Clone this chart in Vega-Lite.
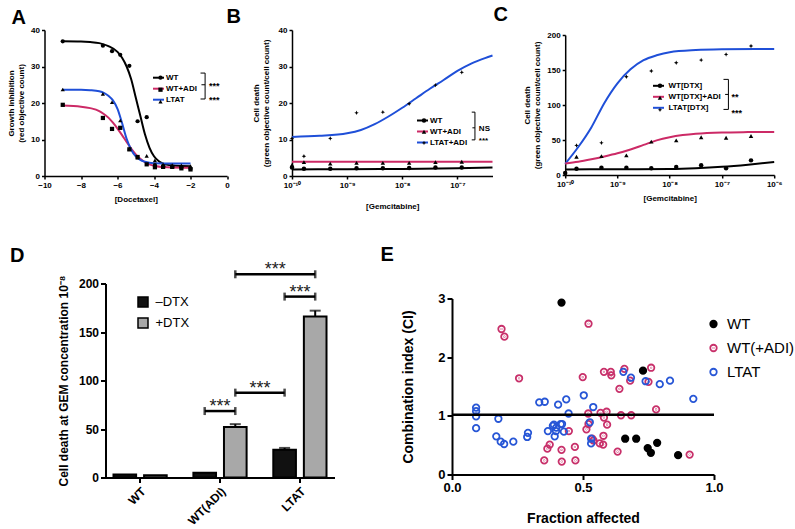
{
  "$schema": "https://vega.github.io/schema/vega-lite/v6.json",
  "padding": {"left": 7.5, "top": 5, "right": 0, "bottom": 0},
  "config": {
    "font": "Liberation Sans",
    "view": {"stroke": null},
    "axis": {"grid": false, "domainColor": "#000", "tickColor": "#000", "labelColor": "#000", "titleColor": "#000", "labelFontWeight": "bold", "titleFontWeight": "bold", "labelFlush": false, "labelOverlap": false},
    "legend": {"padding": 0, "labelColor": "#000", "title": null},
    "title": {"fontSize": 20, "fontWeight": "bold", "anchor": "start", "frame": "group", "color": "#000", "baseline": "alphabetic"}
  },
  "datasets": {
    "aCurve": [
      {"s":"WT","x":-9,"y":36.9},{"s":"WT","x":-8,"y":36.85},{"s":"WT","x":-7.5,"y":36.7},{"s":"WT","x":-7,"y":36.4},{"s":"WT","x":-6.5,"y":35.6},{"s":"WT","x":-6,"y":34},{"s":"WT","x":-5.75,"y":32.4},{"s":"WT","x":-5.5,"y":30},{"s":"WT","x":-5.25,"y":26.5},{"s":"WT","x":-5,"y":21.5},{"s":"WT","x":-4.75,"y":16.5},{"s":"WT","x":-4.5,"y":11.5},{"s":"WT","x":-4.25,"y":7.8},{"s":"WT","x":-4,"y":5.4},{"s":"WT","x":-3.75,"y":4.1},{"s":"WT","x":-3.5,"y":3.4},{"s":"WT","x":-3.25,"y":3.05},{"s":"WT","x":-3,"y":2.9},{"s":"WT","x":-2.5,"y":2.75},{"s":"WT","x":-2,"y":2.7},
      {"s":"WT+ADI","x":-9,"y":19.3},{"s":"WT+ADI","x":-8,"y":19.0},{"s":"WT+ADI","x":-7.5,"y":18.6},{"s":"WT+ADI","x":-7,"y":17.8},{"s":"WT+ADI","x":-6.75,"y":17.0},{"s":"WT+ADI","x":-6.5,"y":16.0},{"s":"WT+ADI","x":-6.25,"y":14.6},{"s":"WT+ADI","x":-6,"y":13.0},{"s":"WT+ADI","x":-5.75,"y":11.2},{"s":"WT+ADI","x":-5.5,"y":9.3},{"s":"WT+ADI","x":-5.25,"y":7.5},{"s":"WT+ADI","x":-5,"y":5.9},{"s":"WT+ADI","x":-4.75,"y":4.7},{"s":"WT+ADI","x":-4.5,"y":3.8},{"s":"WT+ADI","x":-4.25,"y":3.2},{"s":"WT+ADI","x":-4,"y":2.8},{"s":"WT+ADI","x":-3.5,"y":2.45},{"s":"WT+ADI","x":-3,"y":2.3},{"s":"WT+ADI","x":-2,"y":2.25},
      {"s":"LTAT","x":-9,"y":23.6},{"s":"LTAT","x":-8,"y":23.6},{"s":"LTAT","x":-7.5,"y":23.5},{"s":"LTAT","x":-7,"y":23.2},{"s":"LTAT","x":-6.75,"y":22.8},{"s":"LTAT","x":-6.5,"y":22.0},{"s":"LTAT","x":-6.25,"y":20.7},{"s":"LTAT","x":-6,"y":18.4},{"s":"LTAT","x":-5.75,"y":14.5},{"s":"LTAT","x":-5.5,"y":10.2},{"s":"LTAT","x":-5.25,"y":7.2},{"s":"LTAT","x":-5,"y":5.4},{"s":"LTAT","x":-4.75,"y":4.4},{"s":"LTAT","x":-4.5,"y":3.9},{"s":"LTAT","x":-4.25,"y":3.6},{"s":"LTAT","x":-4,"y":3.5},{"s":"LTAT","x":-3,"y":3.4},{"s":"LTAT","x":-2,"y":3.4}
    ],
    "aPts": [
      {"g":"WT","x":-9,"y":36.9},{"g":"WT","x":-6.8,"y":35.7},{"g":"WT","x":-6.3,"y":34.2},{"g":"WT","x":-5.85,"y":33.2},{"g":"WT","x":-5.35,"y":30.2},{"g":"WT","x":-4.9,"y":15.0},{"g":"WT","x":-4.4,"y":16.1},{"g":"WT","x":-3.95,"y":3.0},{"g":"WT","x":-3.5,"y":2.7},{"g":"WT","x":-3.0,"y":2.5},{"g":"WT","x":-2.5,"y":2.3},{"g":"WT","x":-2.0,"y":2.0},
      {"g":"WT+ADI","x":-9,"y":19.5},{"g":"WT+ADI","x":-6.8,"y":15.9},{"g":"WT+ADI","x":-6.3,"y":12.9},{"g":"WT+ADI","x":-5.85,"y":13.2},{"g":"WT+ADI","x":-5.35,"y":7.3},{"g":"WT+ADI","x":-4.9,"y":5.2},{"g":"WT+ADI","x":-4.4,"y":3.2},{"g":"WT+ADI","x":-3.95,"y":2.4},{"g":"WT+ADI","x":-3.5,"y":2.5},{"g":"WT+ADI","x":-3.0,"y":2.5},{"g":"WT+ADI","x":-2.5,"y":2.1},{"g":"WT+ADI","x":-2.0,"y":1.8},
      {"g":"LTAT","x":-9,"y":23.7},{"g":"LTAT","x":-6.8,"y":22.5},{"g":"LTAT","x":-6.3,"y":20.2},{"g":"LTAT","x":-5.85,"y":15.2},{"g":"LTAT","x":-5.35,"y":7.5},{"g":"LTAT","x":-4.9,"y":5.0},{"g":"LTAT","x":-4.4,"y":5.5},{"g":"LTAT","x":-3.95,"y":4.3},{"g":"LTAT","x":-3.5,"y":3.2},{"g":"LTAT","x":-3.0,"y":3.0},{"g":"LTAT","x":-2.5,"y":2.9},{"g":"LTAT","x":-2.0,"y":2.7}
    ],
    "aRule": [
      {"x":-1.2,"x2":-1.2,"y":21.1,"y2":28.2},{"x":-1.45,"x2":-1.2,"y":28.2,"y2":28.2},{"x":-1.45,"x2":-1.2,"y":21.1,"y2":21.1},{"x":-1.4,"x2":-1.2,"y":25.0,"y2":25.0}
    ],
    "aTxt": [{"x":-0.99,"y":25.0,"t":"***"},{"x":-0.99,"y":21.1,"t":"***"}],
    "bCurve": [
      {"s":"LTAT+ADI","x":1e-10,"y":10.7},{"s":"LTAT+ADI","x":3.162e-10,"y":11.0},{"s":"LTAT+ADI","x":1e-9,"y":11.7},{"s":"LTAT+ADI","x":1.778e-9,"y":12.6},{"s":"LTAT+ADI","x":3.162e-9,"y":14.2},{"s":"LTAT+ADI","x":5.623e-9,"y":16.3},{"s":"LTAT+ADI","x":1e-8,"y":18.7},{"s":"LTAT+ADI","x":1.778e-8,"y":21.3},{"s":"LTAT+ADI","x":3.162e-8,"y":23.9},{"s":"LTAT+ADI","x":5.623e-8,"y":26.3},{"s":"LTAT+ADI","x":1e-7,"y":28.8},{"s":"LTAT+ADI","x":1.778e-7,"y":30.8},{"s":"LTAT+ADI","x":3.162e-7,"y":32.3},{"s":"LTAT+ADI","x":4.33e-7,"y":33.0},
      {"s":"WT","x":1e-10,"y":1.8},{"s":"WT","x":1e-9,"y":1.85},{"s":"WT","x":1e-8,"y":1.95},{"s":"WT","x":1e-7,"y":2.1},{"s":"WT","x":4.33e-7,"y":2.3},
      {"s":"WT+ADI","x":1e-10,"y":3.9},{"s":"WT+ADI","x":1e-8,"y":3.9},{"s":"WT+ADI","x":4.33e-7,"y":3.9}
    ],
    "bPts": [
      {"g":"LTAT+ADI","x":1e-10,"y":10.3},{"g":"LTAT+ADI","x":1.646e-10,"y":5.4},{"g":"LTAT+ADI","x":4.94e-10,"y":10.3},{"g":"LTAT+ADI","x":1.481e-9,"y":17.3},{"g":"LTAT+ADI","x":4.444e-9,"y":17.5},{"g":"LTAT+ADI","x":1.333e-8,"y":19.8},{"g":"LTAT+ADI","x":4e-8,"y":24.9},{"g":"LTAT+ADI","x":1.2e-7,"y":28.4},
      {"g":"WT+ADI","x":1e-10,"y":3.0},{"g":"WT+ADI","x":1.646e-10,"y":3.8},{"g":"WT+ADI","x":4.94e-10,"y":3.4},{"g":"WT+ADI","x":1.481e-9,"y":3.6},{"g":"WT+ADI","x":4.444e-9,"y":3.6},{"g":"WT+ADI","x":1.333e-8,"y":3.6},{"g":"WT+ADI","x":4e-8,"y":3.8},{"g":"WT+ADI","x":1.2e-7,"y":3.9},
      {"g":"WT","x":1e-10,"y":2.3},{"g":"WT","x":1.646e-10,"y":2.0},{"g":"WT","x":4.94e-10,"y":2.0},{"g":"WT","x":1.481e-9,"y":2.1},{"g":"WT","x":4.444e-9,"y":2.1},{"g":"WT","x":1.333e-8,"y":2.2},{"g":"WT","x":4e-8,"y":2.3},{"g":"WT","x":1.2e-7,"y":2.3}
    ],
    "bRule": [
      {"x":2.08e-7,"x2":2.08e-7,"y":9.9,"y2":17.5},{"x":1.82e-7,"x2":2.08e-7,"y":17.5,"y2":17.5},{"x":1.82e-7,"x2":2.08e-7,"y":9.9,"y2":9.9},{"x":1.87e-7,"x2":2.08e-7,"y":13.2,"y2":13.2}
    ],
    "bTxt": [{"x":2.45e-7,"y":13.2,"t":"NS"},{"x":2.45e-7,"y":9.9,"t":"***"}],
    "cCurve": [
      {"s":"LTAT[DTX]","x":1e-10,"y":16},{"s":"LTAT[DTX]","x":1.778e-10,"y":40},{"s":"LTAT[DTX]","x":3.162e-10,"y":68},{"s":"LTAT[DTX]","x":5.623e-10,"y":103},{"s":"LTAT[DTX]","x":1e-9,"y":131},{"s":"LTAT[DTX]","x":1.778e-9,"y":151},{"s":"LTAT[DTX]","x":3.162e-9,"y":164},{"s":"LTAT[DTX]","x":5.623e-9,"y":171},{"s":"LTAT[DTX]","x":1e-8,"y":175.5},{"s":"LTAT[DTX]","x":3.162e-8,"y":178.5},{"s":"LTAT[DTX]","x":1e-7,"y":179.5},{"s":"LTAT[DTX]","x":1e-6,"y":180},
      {"s":"WT[DTX]+ADI","x":1e-10,"y":16.5},{"s":"WT[DTX]+ADI","x":1.778e-10,"y":19},{"s":"WT[DTX]+ADI","x":3.162e-10,"y":22.5},{"s":"WT[DTX]+ADI","x":5.623e-10,"y":26.5},{"s":"WT[DTX]+ADI","x":1e-9,"y":31},{"s":"WT[DTX]+ADI","x":1.778e-9,"y":36.5},{"s":"WT[DTX]+ADI","x":3.162e-9,"y":43},{"s":"WT[DTX]+ADI","x":5.623e-9,"y":49.5},{"s":"WT[DTX]+ADI","x":1e-8,"y":54},{"s":"WT[DTX]+ADI","x":1.778e-8,"y":57},{"s":"WT[DTX]+ADI","x":3.162e-8,"y":59},{"s":"WT[DTX]+ADI","x":1e-7,"y":60.8},{"s":"WT[DTX]+ADI","x":3.162e-7,"y":61.3},{"s":"WT[DTX]+ADI","x":1e-6,"y":61.5},
      {"s":"WT[DTX]","x":1e-10,"y":8},{"s":"WT[DTX]","x":1e-9,"y":8.2},{"s":"WT[DTX]","x":1e-8,"y":8.7},{"s":"WT[DTX]","x":3.162e-8,"y":9.8},{"s":"WT[DTX]","x":1e-7,"y":11.8},{"s":"WT[DTX]","x":3.162e-7,"y":14.8},{"s":"WT[DTX]","x":1e-6,"y":18.5}
    ],
    "cPts": [
      {"g":"LTAT[DTX]","x":1.646e-10,"y":42.3},{"g":"LTAT[DTX]","x":4.94e-10,"y":46},{"g":"LTAT[DTX]","x":1.481e-9,"y":140.4},{"g":"LTAT[DTX]","x":4.444e-9,"y":148.6},{"g":"LTAT[DTX]","x":1.333e-8,"y":160.4},{"g":"LTAT[DTX]","x":4e-8,"y":164.2},{"g":"LTAT[DTX]","x":1.2e-7,"y":172.3},{"g":"LTAT[DTX]","x":3.6e-7,"y":184.3},
      {"g":"WT[DTX]+ADI","x":1.646e-10,"y":26},{"g":"WT[DTX]+ADI","x":4.94e-10,"y":27},{"g":"WT[DTX]+ADI","x":1.481e-9,"y":28},{"g":"WT[DTX]+ADI","x":4.444e-9,"y":47.6},{"g":"WT[DTX]+ADI","x":1.333e-8,"y":49.5},{"g":"WT[DTX]+ADI","x":4e-8,"y":54},{"g":"WT[DTX]+ADI","x":1.2e-7,"y":53.3},{"g":"WT[DTX]+ADI","x":3.6e-7,"y":55.7},
      {"g":"WT[DTX]","x":1e-10,"y":3},{"g":"WT[DTX]","x":1.646e-10,"y":8.9},{"g":"WT[DTX]","x":4.94e-10,"y":10.4},{"g":"WT[DTX]","x":1.481e-9,"y":10.4},{"g":"WT[DTX]","x":4.444e-9,"y":9.5},{"g":"WT[DTX]","x":1.333e-8,"y":11.4},{"g":"WT[DTX]","x":4e-8,"y":13.8},{"g":"WT[DTX]","x":1.2e-7,"y":9.5},{"g":"WT[DTX]","x":3.6e-7,"y":20.9}
    ],
    "cRule": [
      {"x":1.33e-7,"x2":1.33e-7,"y":93.7,"y2":136.6},{"x":1.07e-7,"x2":1.33e-7,"y":136.6,"y2":136.6},{"x":1.07e-7,"x2":1.33e-7,"y":93.7,"y2":93.7},{"x":1.15e-7,"x2":1.33e-7,"y":115.1,"y2":115.1}
    ],
    "cTxt": [{"x":1.53e-7,"y":113.7,"t":"**"},{"x":1.53e-7,"y":91.4,"t":"***"}],
    "dBars": [
      {"g":"WT","t":"–DTX","v":3.0,"e":3.0},{"g":"WT","t":"+DTX","v":2.2,"e":2.2},
      {"g":"WT(ADI)","t":"–DTX","v":5.0,"e":5.0},{"g":"WT(ADI)","t":"+DTX","v":52,"e":55},
      {"g":"LTAT","t":"–DTX","v":28.5,"e":30.5},{"g":"LTAT","t":"+DTX","v":166,"e":172}
    ],
    "dAnn": [
      {"x1":1.2415,"x2":1.6245,"xm":1.433,"y":68.5},{"x1":1.6245,"x2":2.2415,"xm":1.933,"y":87.5},{"x1":2.2415,"x2":2.6245,"xm":2.433,"y":186.5},{"x1":1.6245,"x2":2.6245,"xm":2.1245,"y":209.5}
    ],
    "ePts": [
      {"s":"WT","x":0.418,"y":2.93},{"s":"WT","x":0.729,"y":1.77},{"s":"WT","x":0.661,"y":0.61},{"s":"WT","x":0.703,"y":0.61},{"s":"WT","x":0.747,"y":0.45},{"s":"WT","x":0.759,"y":0.37},{"s":"WT","x":0.783,"y":0.54},{"s":"WT","x":0.863,"y":0.33},
      {"s":"WT(+ADI)","x":0.189,"y":2.48},{"s":"WT(+ADI)","x":0.2,"y":2.35},{"s":"WT(+ADI)","x":0.256,"y":1.64},{"s":"WT(+ADI)","x":0.521,"y":2.57},{"s":"WT(+ADI)","x":0.499,"y":1.66},{"s":"WT(+ADI)","x":0.58,"y":1.75},{"s":"WT(+ADI)","x":0.606,"y":1.75},{"s":"WT(+ADI)","x":0.608,"y":1.69},{"s":"WT(+ADI)","x":0.658,"y":1.8},{"s":"WT(+ADI)","x":0.68,"y":1.6},{"s":"WT(+ADI)","x":0.639,"y":1.46},{"s":"WT(+ADI)","x":0.76,"y":1.82},{"s":"WT(+ADI)","x":0.75,"y":1.58},{"s":"WT(+ADI)","x":0.779,"y":1.11},{"s":"WT(+ADI)","x":0.52,"y":1.04},{"s":"WT(+ADI)","x":0.567,"y":1.05},{"s":"WT(+ADI)","x":0.59,"y":1.07},{"s":"WT(+ADI)","x":0.58,"y":0.97},{"s":"WT(+ADI)","x":0.645,"y":1.01},{"s":"WT(+ADI)","x":0.684,"y":1.01},{"s":"WT(+ADI)","x":0.521,"y":0.86},{"s":"WT(+ADI)","x":0.592,"y":0.85},{"s":"WT(+ADI)","x":0.513,"y":0.77},{"s":"WT(+ADI)","x":0.446,"y":0.74},{"s":"WT(+ADI)","x":0.578,"y":0.66},{"s":"WT(+ADI)","x":0.535,"y":0.61},{"s":"WT(+ADI)","x":0.564,"y":0.53},{"s":"WT(+ADI)","x":0.577,"y":0.51},{"s":"WT(+ADI)","x":0.54,"y":0.58},{"s":"WT(+ADI)","x":0.469,"y":0.47},{"s":"WT(+ADI)","x":0.373,"y":0.51},{"s":"WT(+ADI)","x":0.364,"y":0.44},{"s":"WT(+ADI)","x":0.418,"y":0.42},{"s":"WT(+ADI)","x":0.632,"y":0.39},{"s":"WT(+ADI)","x":0.352,"y":0.24},{"s":"WT(+ADI)","x":0.419,"y":0.22},{"s":"WT(+ADI)","x":0.471,"y":0.24},{"s":"WT(+ADI)","x":0.907,"y":0.34},
      {"s":"LTAT","x":0.092,"y":1.14},{"s":"LTAT","x":0.092,"y":1.08},{"s":"LTAT","x":0.092,"y":0.99},{"s":"LTAT","x":0.092,"y":0.79},{"s":"LTAT","x":0.177,"y":0.95},{"s":"LTAT","x":0.169,"y":0.65},{"s":"LTAT","x":0.186,"y":0.56},{"s":"LTAT","x":0.199,"y":0.52},{"s":"LTAT","x":0.234,"y":0.56},{"s":"LTAT","x":0.287,"y":0.64},{"s":"LTAT","x":0.29,"y":0.71},{"s":"LTAT","x":0.333,"y":1.23},{"s":"LTAT","x":0.354,"y":1.24},{"s":"LTAT","x":0.405,"y":1.19},{"s":"LTAT","x":0.436,"y":1.28},{"s":"LTAT","x":0.445,"y":1.04},{"s":"LTAT","x":0.366,"y":0.74},{"s":"LTAT","x":0.385,"y":0.83},{"s":"LTAT","x":0.389,"y":0.85},{"s":"LTAT","x":0.392,"y":0.65},{"s":"LTAT","x":0.397,"y":0.74},{"s":"LTAT","x":0.398,"y":0.8},{"s":"LTAT","x":0.415,"y":0.86},{"s":"LTAT","x":0.42,"y":0.86},{"s":"LTAT","x":0.427,"y":0.73},{"s":"LTAT","x":0.503,"y":1.35},{"s":"LTAT","x":0.539,"y":1.15},{"s":"LTAT","x":0.526,"y":0.89},{"s":"LTAT","x":0.531,"y":0.61},{"s":"LTAT","x":0.531,"y":0.53},{"s":"LTAT","x":0.654,"y":1.75},{"s":"LTAT","x":0.683,"y":1.65},{"s":"LTAT","x":0.739,"y":1.59},{"s":"LTAT","x":0.793,"y":1.54},{"s":"LTAT","x":0.832,"y":1.6},{"s":"LTAT","x":0.921,"y":1.29}
    ]
  },
  "bounds": "flush",
  "spacing": 253.5,
  "resolve": {"scale": {"color": "independent", "shape": "independent", "fill": "independent", "stroke": "independent"}},
  "vconcat": [
    {
      "bounds": "flush",
      "spacing": 64.5,
      "resolve": {"scale": {"color": "independent", "shape": "independent", "fill": "independent", "stroke": "independent"}},
      "hconcat": [
        {
          "width": 182.5, "height": 146,
          "title": {"text": "A", "dx": -33, "offset": -1.7},
          "layer": [
            {"data": {"name": "aCurve"}, "mark": {"type": "line", "strokeWidth": 2, "interpolate": "monotone"},
             "encoding": {
               "x": {"field": "x", "type": "quantitative", "scale": {"domain": [-10, 0], "nice": false, "zero": false},
                     "axis": {"values": [-10,-8,-6,-4,-2,0], "tickCount": 20, "format": "d", "labelOverlap": false, "title": "[Docetaxel]", "labelFontSize": 8, "titleFontSize": 8, "domainWidth": 1.5, "tickWidth": 1.5, "tickSize": 3, "labelPadding": 2, "titlePadding": 6}},
               "y": {"field": "y", "type": "quantitative", "scale": {"domain": [0, 40], "nice": false},
                     "axis": {"values": [0,10,20,30,40], "tickCount": 20, "labelOverlap": false, "format": "d", "title": ["Growth inhibition", "(red objective count)"], "labelFontSize": 8, "titleFontSize": 8, "titleLineHeight": 10, "domainWidth": 1.5, "tickWidth": 1.5, "tickSize": 3, "labelPadding": 2, "titlePadding": 5}},
               "color": {"field": "s", "type": "nominal", "scale": {"domain": ["WT","WT+ADI","LTAT"], "range": ["#000000","#cc2a66","#1f4fd8"]},
                         "legend": {"orient": "none", "legendX": 107.5, "legendY": 41.2, "symbolType": "stroke", "symbolSize": 121, "symbolStrokeWidth": 2, "labelFontSize": 8, "labelFontWeight": "bold", "labelOffset": 1, "rowPadding": -1}}
             }},
            {"data": {"name": "aPts"}, "mark": {"type": "point", "filled": true, "size": 18, "color": "#000", "opacity": 1},
             "encoding": {
               "x": {"field": "x", "type": "quantitative"},
               "y": {"field": "y", "type": "quantitative"},
               "shape": {"field": "g", "type": "nominal", "scale": {"domain": ["WT","WT+ADI","LTAT","_"], "range": ["circle","square","triangle-up","circle"]},
                         "legend": {"values": ["WT","WT+ADI","LTAT"], "orient": "none", "legendX": 112, "legendY": 43.7, "symbolSize": 18, "symbolFillColor": "#000", "symbolStrokeColor": "#000", "symbolStrokeWidth": 0, "labelFontSize": 8, "labelOpacity": 0, "rowPadding": 4}}
             }},
            {"data": {"name": "aRule"}, "mark": {"type": "rule", "color": "#000", "strokeWidth": 1},
             "encoding": {"x": {"field": "x", "type": "quantitative"}, "x2": {"field": "x2"}, "y": {"field": "y", "type": "quantitative"}, "y2": {"field": "y2"}}},
            {"data": {"name": "aTxt"}, "mark": {"type": "text", "align": "left", "baseline": "middle", "fontSize": 9, "fontWeight": "bold", "dy": 1.5, "color": "#000"},
             "encoding": {"x": {"field": "x", "type": "quantitative"}, "y": {"field": "y", "type": "quantitative"}, "text": {"field": "t"}}}
          ]
        },
        {
          "bounds": "flush",
          "spacing": 72.2,
          "resolve": {"scale": {"color": "independent", "shape": "independent", "fill": "independent", "stroke": "independent"}},
          "hconcat": [
            {
              "width": 200.5, "height": 146,
              "title": {"text": "B", "dx": -65.5, "offset": -0.7},
              "layer": [
                {"data": {"name": "bCurve"}, "mark": {"type": "line", "strokeWidth": 2, "interpolate": "monotone"},
                 "encoding": {
                   "x": {"field": "x", "type": "quantitative", "scale": {"type": "log", "domain": [1e-10, 4.33e-7], "nice": false},
                         "axis": {"values": [1e-10,1e-9,1e-8,1e-7], "tickCount": 20, "labelOverlap": false, "labelExpr": "datum.value < 3e-10 ? '10⁻¹⁰' : datum.value < 3e-9 ? '10⁻⁹' : datum.value < 3e-8 ? '10⁻⁸' : '10⁻⁷'", "title": "[Gemcitabine]", "labelFontSize": 8, "titleFontSize": 8, "domainWidth": 1.5, "tickWidth": 1.5, "tickSize": 3, "labelPadding": 2, "titlePadding": 13}},
                   "y": {"field": "y", "type": "quantitative", "scale": {"domain": [0, 40], "nice": false},
                         "axis": {"values": [0,10,20,30,40], "tickCount": 20, "labelOverlap": false, "format": "d", "title": ["Cell death", "(green objective count/cell count)"], "labelFontSize": 8, "titleFontSize": 8, "titleLineHeight": 10, "domainWidth": 1.5, "tickWidth": 1.5, "tickSize": 3, "labelPadding": 2, "titlePadding": 8}},
                   "color": {"field": "s", "type": "nominal", "scale": {"domain": ["WT","WT+ADI","LTAT+ADI"], "range": ["#000000","#cc2a66","#1f4fd8"]},
                             "legend": {"orient": "none", "legendX": 124, "legendY": 84, "symbolType": "stroke", "symbolSize": 121, "symbolStrokeWidth": 2, "labelFontSize": 8, "labelFontWeight": "bold", "labelOffset": 1, "rowPadding": -1.8}}
                 }},
                {"data": {"name": "bPts"}, "mark": {"type": "point", "filled": true, "size": 20, "color": "#000", "opacity": 1},
                 "encoding": {
                   "x": {"field": "x", "type": "quantitative"},
                   "y": {"field": "y", "type": "quantitative"},
                   "shape": {"field": "g", "type": "nominal", "scale": {"domain": ["WT","WT+ADI","LTAT+ADI","_"], "range": ["circle","triangle-up","M0,-1L0.3,-0.3L1,0L0.3,0.3L0,1L-0.3,0.3L-1,0L-0.3,-0.3Z","circle"]},
                             "legend": {"values": ["WT","WT+ADI","LTAT+ADI"], "orient": "none", "legendX": 128, "legendY": 86.5, "symbolSize": 20, "symbolFillColor": "#000", "symbolStrokeColor": "#000", "symbolStrokeWidth": 0, "labelFontSize": 8, "labelOpacity": 0, "rowPadding": 3.2}}
                 }},
                {"data": {"name": "bRule"}, "mark": {"type": "rule", "color": "#000", "strokeWidth": 1},
                 "encoding": {"x": {"field": "x", "type": "quantitative"}, "x2": {"field": "x2"}, "y": {"field": "y", "type": "quantitative"}, "y2": {"field": "y2"}}},
                {"data": {"name": "bTxt"}, "mark": {"type": "text", "align": "left", "baseline": "middle", "fontSize": 8, "fontWeight": "bold", "dy": 1, "color": "#000"},
                 "encoding": {"x": {"field": "x", "type": "quantitative"}, "y": {"field": "y", "type": "quantitative"}, "text": {"field": "t"}}}
              ]
            },
            {
              "bounds": "flush",
              "spacing": 0,
              "resolve": {"scale": {"color": "independent", "shape": "independent", "fill": "independent", "stroke": "independent"}},
              "vconcat": [
                {"width": 209, "height": 5, "data": {"values": [{}]}, "mark": {"type": "point", "opacity": 0}, "encoding": {}},
                {
                  "width": 209, "height": 140,
                  "title": {"text": "C", "dx": -71.7, "offset": 6},
                  "layer": [
                    {"data": {"name": "cCurve"}, "mark": {"type": "line", "strokeWidth": 2, "interpolate": "monotone"},
                     "encoding": {
                       "x": {"field": "x", "type": "quantitative", "scale": {"type": "log", "domain": [1e-10, 1e-6], "nice": false},
                             "axis": {"values": [1e-10,1e-9,1e-8,1e-7,1e-6], "tickCount": 20, "labelOverlap": false, "labelExpr": "datum.value < 3e-10 ? '10⁻¹⁰' : datum.value < 3e-9 ? '10⁻⁹' : datum.value < 3e-8 ? '10⁻⁸' : datum.value < 3e-7 ? '10⁻⁷' : '10⁻⁶'", "title": "[Gemcitabine]", "labelFontSize": 8, "titleFontSize": 8, "domainWidth": 1.5, "tickWidth": 1.5, "tickSize": 3, "labelPadding": 2, "titlePadding": 6}},
                       "y": {"field": "y", "type": "quantitative", "scale": {"domain": [0, 200], "nice": false},
                             "axis": {"values": [0,50,100,150,200], "tickCount": 20, "labelOverlap": false, "format": "d", "title": ["Cell death", "(green objective count/cell count)"], "labelFontSize": 8, "titleFontSize": 8, "titleLineHeight": 10, "domainWidth": 1.5, "tickWidth": 1.5, "tickSize": 3, "labelPadding": 2, "titlePadding": 5}},
                       "color": {"field": "s", "type": "nominal", "scale": {"domain": ["WT[DTX]","WT[DTX]+ADI","LTAT[DTX]"], "range": ["#000000","#cc2a66","#1f4fd8"]},
                                 "legend": {"orient": "none", "legendX": 86.8, "legendY": 44.3, "symbolType": "stroke", "symbolSize": 121, "symbolStrokeWidth": 2, "labelFontSize": 8, "labelFontWeight": "bold", "labelOffset": 3.5, "rowPadding": -1}}
                     }},
                    {"data": {"name": "cPts"}, "mark": {"type": "point", "filled": true, "size": 20, "color": "#000", "opacity": 1},
                     "encoding": {
                       "x": {"field": "x", "type": "quantitative"},
                       "y": {"field": "y", "type": "quantitative"},
                       "shape": {"field": "g", "type": "nominal", "scale": {"domain": ["WT[DTX]","WT[DTX]+ADI","LTAT[DTX]","_"], "range": ["circle","triangle-up","M0,-1L0.3,-0.3L1,0L0.3,0.3L0,1L-0.3,0.3L-1,0L-0.3,-0.3Z","circle"]},
                                 "legend": {"values": ["WT[DTX]","WT[DTX]+ADI","LTAT[DTX]"], "orient": "none", "legendX": 90.8, "legendY": 46.8, "symbolSize": 20, "symbolFillColor": "#000", "symbolStrokeColor": "#000", "symbolStrokeWidth": 0, "labelFontSize": 8, "labelOpacity": 0, "rowPadding": 4}}
                     }},
                    {"data": {"name": "cRule"}, "mark": {"type": "rule", "color": "#000", "strokeWidth": 1},
                     "encoding": {"x": {"field": "x", "type": "quantitative"}, "x2": {"field": "x2"}, "y": {"field": "y", "type": "quantitative"}, "y2": {"field": "y2"}}},
                    {"data": {"name": "cTxt"}, "mark": {"type": "text", "align": "left", "baseline": "middle", "fontSize": 9, "fontWeight": "bold", "dy": 1.5, "color": "#000"},
                     "encoding": {"x": {"field": "x", "type": "quantitative"}, "y": {"field": "y", "type": "quantitative"}, "text": {"field": "t"}}}
                  ]
                }
              ]
            }
          ]
        }
      ]
    },
    {
      "bounds": "flush",
      "spacing": 0,
      "resolve": {"scale": {"color": "independent", "shape": "independent", "fill": "independent", "stroke": "independent"}},
      "hconcat": [
        {"width": 61, "height": 1, "data": {"values": [{}]}, "mark": {"type": "point", "opacity": 0}, "encoding": {}},
        {
          "bounds": "flush",
          "spacing": 117.5,
          "resolve": {"scale": {"color": "independent", "shape": "independent", "fill": "independent", "stroke": "independent"}},
          "hconcat": [
            {
              "width": 229, "height": 194,
              "title": {"text": "D", "dx": -95.5, "offset": -5},
              "resolve": {"scale": {"x": "independent"}, "axis": {"x": "independent"}},
              "layer": [
                {
                  "layer": [
                    {"data": {"name": "dBars"}, "mark": {"type": "bar", "stroke": "#000", "strokeWidth": 2},
                     "encoding": {
                       "x": {"field": "g", "type": "nominal", "sort": ["WT","WT(ADI)","LTAT"], "scale": {"paddingInner": 0.334, "paddingOuter": 0.1},
                             "axis": {"title": null, "labelAngle": -45, "labelFontSize": 12, "domainWidth": 2, "tickWidth": 2, "tickSize": 5, "labelPadding": 3}},
                       "xOffset": {"field": "t", "type": "nominal", "sort": ["–DTX","+DTX"], "scale": {"paddingInner": 0.26, "paddingOuter": 0}},
                       "y": {"field": "v", "type": "quantitative", "scale": {"domain": [0, 200], "nice": false},
                             "axis": {"values": [0,50,100,150,200], "tickCount": 20, "labelOverlap": false, "format": "d", "title": "Cell death at GEM concentration 10⁻⁸", "labelFontSize": 12, "titleFontSize": 12, "domainWidth": 2, "tickWidth": 2, "tickSize": 5, "labelPadding": 2, "titlePadding": 8}},
                       "fill": {"field": "t", "type": "nominal", "scale": {"domain": ["–DTX","+DTX"], "range": ["#111111","#a8a8a8"]},
                                "legend": {"orient": "none", "legendX": 31, "legendY": 12, "symbolType": "square", "symbolSize": 100, "symbolStrokeColor": "#000", "symbolStrokeWidth": 1.5, "labelFontSize": 13, "labelOffset": 6, "rowPadding": 4}}
                     }},
                    {"data": {"name": "dBars"}, "mark": {"type": "rule", "color": "#000", "strokeWidth": 2},
                     "encoding": {
                       "x": {"field": "g", "type": "nominal", "sort": ["WT","WT(ADI)","LTAT"]},
                       "xOffset": {"field": "t", "type": "nominal", "sort": ["–DTX","+DTX"]},
                       "y": {"field": "v", "type": "quantitative"}, "y2": {"field": "e"}
                     }},
                    {"data": {"name": "dBars"}, "transform": [{"filter": "datum.e > datum.v"}], "mark": {"type": "tick", "orient": "horizontal", "color": "#000", "size": 11, "thickness": 2},
                     "encoding": {
                       "x": {"field": "g", "type": "nominal", "sort": ["WT","WT(ADI)","LTAT"]},
                       "xOffset": {"field": "t", "type": "nominal", "sort": ["–DTX","+DTX"]},
                       "y": {"field": "e", "type": "quantitative"}
                     }}
                  ]
                },
                {
                  "layer": [
                    {"data": {"name": "dAnn"}, "mark": {"type": "rule", "color": "#000", "strokeWidth": 2.5},
                     "encoding": {
                       "x": {"field": "x1", "type": "quantitative", "scale": {"domain": [0, 2.866], "nice": false, "zero": false}, "axis": null},
                       "x2": {"field": "x2"},
                       "y": {"field": "y", "type": "quantitative"}
                     }},
                    {"data": {"name": "dAnn"}, "mark": {"type": "tick", "orient": "vertical", "color": "#000", "size": 8, "thickness": 2.5},
                     "encoding": {"x": {"field": "x1", "type": "quantitative", "axis": null}, "y": {"field": "y", "type": "quantitative"}}},
                    {"data": {"name": "dAnn"}, "mark": {"type": "tick", "orient": "vertical", "color": "#000", "size": 8, "thickness": 2.5},
                     "encoding": {"x": {"field": "x2", "type": "quantitative", "axis": null}, "y": {"field": "y", "type": "quantitative"}}},
                    {"data": {"name": "dAnn"}, "mark": {"type": "text", "text": "***", "align": "center", "baseline": "alphabetic", "fontSize": 18, "dy": 1, "color": "#222"},
                     "encoding": {"x": {"field": "xm", "type": "quantitative", "axis": null}, "y": {"field": "y", "type": "quantitative"}}}
                  ]
                }
              ]
            },
            {
              "bounds": "flush",
              "spacing": 0,
              "resolve": {"scale": {"color": "independent", "shape": "independent", "fill": "independent", "stroke": "independent"}},
              "vconcat": [
                {"width": 262, "height": 15, "data": {"values": [{}]}, "mark": {"type": "point", "opacity": 0}, "encoding": {}},
                {
                  "width": 262, "height": 176,
                  "title": {"text": "E", "dx": -71.5, "offset": 27.5},
                  "layer": [
                    {"data": {"name": "ePts"}, "mark": {"type": "point", "size": 42, "strokeWidth": 1.8, "opacity": 1},
                     "encoding": {
                       "x": {"field": "x", "type": "quantitative", "scale": {"domain": [0, 1], "nice": false},
                             "axis": {"values": [0, 0.5, 1], "tickCount": 20, "labelOverlap": false, "format": ".1f", "title": "Fraction affected", "labelFontSize": 13, "titleFontSize": 14, "domainWidth": 2, "tickWidth": 2, "tickSize": 5, "labelPadding": 2, "titlePadding": 17}},
                       "y": {"field": "y", "type": "quantitative", "scale": {"domain": [0, 3], "nice": false},
                             "axis": {"values": [0, 1, 2, 3], "tickCount": 20, "labelOverlap": false, "format": "d", "title": "Combination index (CI)", "labelFontSize": 13, "titleFontSize": 14, "domainWidth": 2, "tickWidth": 2, "tickSize": 5, "labelPadding": 2, "titlePadding": 22}},
                       "shape": {"field": "s", "type": "nominal", "scale": {"domain": ["WT","WT(+ADI)","LTAT"], "range": ["circle", "M-1,0A1,1,0,1,1,1,0A1,1,0,1,1,-1,0ZM-0.06,0A0.06,0.06,0,1,1,0.06,0A0.06,0.06,0,1,1,-0.06,0Z", "circle"]},
                                 "legend": {"orient": "none", "legendX": 254, "legendY": 18, "symbolSize": 42, "symbolStrokeWidth": 1.8, "labelFontSize": 15, "labelOffset": 6, "rowPadding": 8}},
                       "fill": {"field": "s", "type": "nominal", "scale": {"domain": ["WT","WT(+ADI)","LTAT"], "range": ["#000000", "transparent", "transparent"]},
                                "legend": {"orient": "none", "legendX": 254, "legendY": 18, "symbolSize": 42, "symbolStrokeWidth": 1.8, "labelFontSize": 15, "labelOffset": 6, "rowPadding": 8}},
                       "stroke": {"field": "s", "type": "nominal", "scale": {"domain": ["WT","WT(+ADI)","LTAT"], "range": ["#000000", "#c8306a", "#2756d6"]},
                                  "legend": {"orient": "none", "legendX": 254, "legendY": 18, "symbolSize": 42, "symbolStrokeWidth": 1.8, "labelFontSize": 15, "labelOffset": 6, "rowPadding": 8}}
                     }},
                    {"data": {"values": [{}]}, "mark": {"type": "rule", "color": "#000", "strokeWidth": 2.5},
                     "encoding": {"y": {"datum": 1.02}}}
                  ]
                }
              ]
            }
          ]
        }
      ]
    }
  ]
}
